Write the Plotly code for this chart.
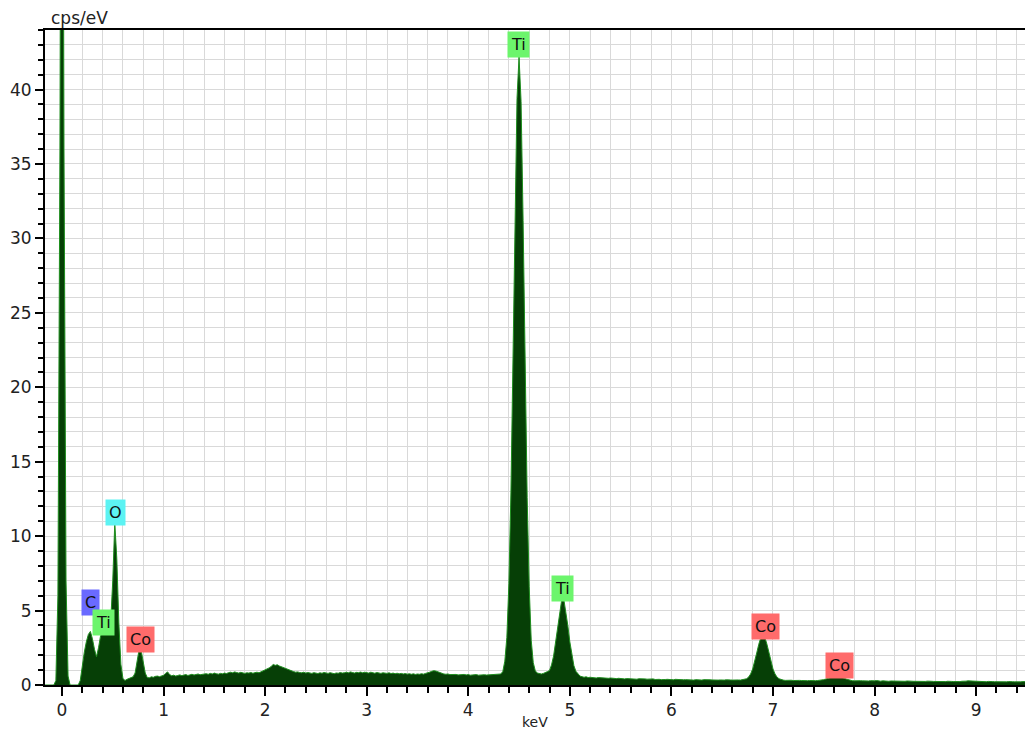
"""
EDS spectrum (cps/eV vs keV) with element peak labels.
"""
import plotly.graph_objects as go

# spectrum channels: start energy and channel width (keV)
energy_start = -0.20
energy_step = 0.02

# counts per channel (cps/eV), 10 channels per row
counts = [
    0, 0, 0, 0, 0, 0, 0, 0.3, 6, 36,                                  # -0.20
    90, 36, 7, 0.6, 0, 0, 0, 0, 0, 0.3,                              # 0.00
    1.3, 2.2, 2.9, 3.4, 3.6, 3.1, 2.4, 1.9, 2.5, 3.3,                # 0.20
    3.6, 3.8, 3.9, 3.9, 4.3, 7.0, 10.9, 8.5, 4.2, 1.4,               # 0.40
    0.45, 0.3, 0.38, 0.45, 0.5, 0.55, 0.8, 1.6, 2.4, 2.3,            # 0.60
    1.5, 0.8, 0.5, 0.48, 0.55, 0.52, 0.58, 0.6, 0.56, 0.62,          # 0.80
    0.65, 0.78, 0.88, 0.7, 0.62, 0.66, 0.6, 0.64, 0.68, 0.63,        # 1.00
    0.66, 0.7, 0.64, 0.68, 0.72, 0.67, 0.7, 0.74, 0.69, 0.72,        # 1.20
    0.7, 0.76, 0.72, 0.78, 0.74, 0.8, 0.76, 0.73, 0.78, 0.75,        # 1.40
    0.8, 0.77, 0.83, 0.86, 0.82, 0.88, 0.84, 0.8, 0.85, 0.82,        # 1.60
    0.78, 0.82, 0.8, 0.84, 0.79, 0.83, 0.86, 0.82, 0.88, 0.92,       # 1.80
    0.98, 1.05, 1.15, 1.25, 1.38, 1.32, 1.36, 1.28, 1.22, 1.16,      # 2.00
    1.1, 1.04, 0.98, 0.94, 0.9, 0.86, 0.88, 0.84, 0.82, 0.86,        # 2.20
    0.8, 0.84, 0.82, 0.78, 0.83, 0.8, 0.77, 0.82, 0.79, 0.84,        # 2.40
    0.8, 0.78, 0.83, 0.8, 0.76, 0.81, 0.79, 0.84, 0.8, 0.82,         # 2.60
    0.86, 0.82, 0.88, 0.84, 0.8, 0.85, 0.83, 0.87, 0.82, 0.86,       # 2.80
    0.84, 0.8, 0.86, 0.82, 0.79, 0.84, 0.8, 0.78, 0.82, 0.8,         # 3.00
    0.78, 0.82, 0.77, 0.8, 0.76, 0.79, 0.75, 0.78, 0.74, 0.77,       # 3.20
    0.73, 0.76, 0.72, 0.75, 0.71, 0.74, 0.72, 0.76, 0.73, 0.78,      # 3.40
    0.8, 0.86, 0.92, 0.96, 0.94, 0.88, 0.82, 0.78, 0.74, 0.72,       # 3.60
    0.74, 0.7, 0.72, 0.69, 0.71, 0.68, 0.7, 0.67, 0.71, 0.68,        # 3.80
    0.7, 0.66, 0.69, 0.67, 0.7, 0.66, 0.68, 0.65, 0.69, 0.67,        # 4.00
    0.68, 0.65, 0.7, 0.67, 0.72, 0.69, 0.74, 0.9, 1.6, 3.2,          # 4.20
    6.8, 12.9, 21.7, 31.5, 39.4, 42.2, 39.2, 31.2, 21.4, 12.6,       # 4.40
    6.6, 3.0, 1.5, 0.95, 0.8, 0.76, 0.74, 0.78, 0.82, 0.9,           # 4.60
    0.98, 1.35, 1.95, 2.9, 4.0, 5.1, 5.72, 5.8, 5.0, 4.0,            # 4.80
    2.9, 1.95, 1.3, 0.92, 0.72, 0.6, 0.56, 0.52, 0.55, 0.5,          # 5.00
    0.52, 0.49, 0.5, 0.47, 0.5, 0.48, 0.46, 0.49, 0.47, 0.45,        # 5.20
    0.47, 0.44, 0.46, 0.43, 0.45, 0.42, 0.44, 0.41, 0.43, 0.42,      # 5.40
    0.4, 0.43, 0.41, 0.39, 0.42, 0.4, 0.38, 0.41, 0.39, 0.4,         # 5.60
    0.38, 0.41, 0.37, 0.4, 0.38, 0.36, 0.39, 0.37, 0.38, 0.36,       # 5.80
    0.37, 0.35, 0.38, 0.36, 0.34, 0.37, 0.35, 0.36, 0.34, 0.37,      # 6.00
    0.35, 0.33, 0.36, 0.34, 0.35, 0.33, 0.36, 0.34, 0.33, 0.35,      # 6.20
    0.34, 0.32, 0.35, 0.33, 0.34, 0.32, 0.33, 0.35, 0.32, 0.34,      # 6.40
    0.33, 0.35, 0.32, 0.34, 0.33, 0.35, 0.36, 0.42, 0.53, 0.74,      # 6.60
    1.08, 1.56, 2.15, 2.73, 3.17, 3.33, 3.2, 2.75, 2.15, 1.56,       # 6.80
    1.08, 0.74, 0.53, 0.42, 0.36, 0.33, 0.31, 0.33, 0.3, 0.32,       # 7.00
    0.3, 0.32, 0.29, 0.31, 0.3, 0.28, 0.31, 0.29, 0.3, 0.28,         # 7.20
    0.3, 0.29, 0.3, 0.31, 0.33, 0.36, 0.4, 0.45, 0.5, 0.55,          # 7.40
    0.59, 0.61, 0.6, 0.57, 0.52, 0.46, 0.4, 0.35, 0.31, 0.29,        # 7.60
    0.28, 0.3, 0.27, 0.29, 0.28, 0.26, 0.28, 0.27, 0.29, 0.27,       # 7.80
    0.28, 0.3, 0.27, 0.26, 0.28, 0.26, 0.27, 0.25, 0.27, 0.26,       # 8.00
    0.25, 0.27, 0.26, 0.24, 0.26, 0.25, 0.27, 0.24, 0.26, 0.25,      # 8.20
    0.24, 0.26, 0.25, 0.23, 0.25, 0.24, 0.26, 0.23, 0.25, 0.24,      # 8.40
    0.23, 0.25, 0.24, 0.22, 0.24, 0.23, 0.25, 0.22, 0.24, 0.23,      # 8.60
    0.22, 0.24, 0.23, 0.25, 0.24, 0.26, 0.28, 0.27, 0.25, 0.23,      # 8.80
    0.22, 0.24, 0.23, 0.21, 0.23, 0.22, 0.24, 0.21, 0.23, 0.22,      # 9.00
    0.21, 0.23, 0.22, 0.2, 0.22, 0.21, 0.23, 0.2, 0.22, 0.21,        # 9.20
    0.2, 0.22, 0.21, 0.23, 0.25, 0.22, 0.2, 0.22, 0.21, 0.2,         # 9.40
    0.21, 0.2, 0.21, 0.2,                                            # 9.60
]

# element labels: text, energy (keV), label height (cps/eV), box colour
label_text = ["O", "C", "Ti", "Co", "Ti", "Ti", "Co", "Co"]
label_kev = [0.53, 0.276, 0.404, 0.778, 4.498, 4.93, 6.93, 7.65]
label_cps = [11.6, 5.57, 4.23, 3.09, 43.0, 6.5, 3.9, 1.34]
label_color = ["#5cf3f3", "#6a6aff", "#6cf56c", "#ff6b6b",
               "#6cf56c", "#6cf56c", "#ff6b6b", "#ff6b6b"]

energy = [round(energy_start + energy_step * i, 2) for i in range(len(counts))]

fig = go.Figure()

fig.add_trace(go.Scatter(
    x=energy, y=counts,
    mode='lines',
    fill='tozeroy',
    fillcolor='#063f06',
    line=dict(color='#1f8f1f', width=1),
    showlegend=False,
    hoverinfo='skip'
))

for txt, kev, cps, col in zip(label_text, label_kev, label_cps, label_color):
    fig.add_annotation(
        x=kev, y=cps, xref='x', yref='y',
        text=txt, showarrow=False,
        bgcolor=col, borderpad=3,
        font=dict(family='DejaVu Sans', size=16, color='#111111')
    )

# axis captions
fig.add_annotation(
    x=0.004, y=1.0, xref='paper', yref='paper',
    xanchor='left', yanchor='bottom',
    text='cps/eV', showarrow=False,
    font=dict(family='DejaVu Sans', size=17, color='#222222')
)
fig.add_annotation(
    x=0.496, y=-0.043, xref='paper', yref='paper',
    xanchor='center', yanchor='top',
    text='keV', showarrow=False, borderpad=0,
    font=dict(family='DejaVu Sans', size=14, color='#222222')
)

grid = '#d9d9d9'
fig.update_xaxes(
    range=[-0.167, 9.56],
    dtick=1, tick0=0,
    ticks='outside', ticklen=9, tickwidth=1.5, tickcolor='black',
    showline=True, linecolor='black', linewidth=2, mirror=True,
    showgrid=True, gridcolor=grid, gridwidth=1,
    zeroline=False,
    tickfont=dict(family='DejaVu Sans', size=17, color='#222222'),
    minor=dict(dtick=0.2, tick0=0, ticks='outside', ticklen=6,
               tickwidth=1.5, tickcolor='black',
               showgrid=True, gridcolor=grid, gridwidth=1),
)
fig.update_yaxes(
    range=[0, 44],
    dtick=5, tick0=0,
    ticks='outside', ticklen=8, tickwidth=1.5, tickcolor='black',
    showline=True, linecolor='black', linewidth=2,
    showgrid=True, gridcolor=grid, gridwidth=1,
    zeroline=False,
    tickfont=dict(family='DejaVu Sans', size=17, color='#222222'),
    minor=dict(dtick=1, tick0=0, ticks='outside', ticklen=5,
               tickwidth=1.5, tickcolor='black',
               showgrid=True, gridcolor=grid, gridwidth=1),
)

# the page adds an 8px body margin, so the figure is 8px smaller and shifted
fig.update_layout(
    width=1025, height=725,
    margin=dict(l=37, r=0, t=22, b=48, autoexpand=False),
    plot_bgcolor='white',
    paper_bgcolor='white',
    showlegend=False,
)

fig.write_html("out.html")
